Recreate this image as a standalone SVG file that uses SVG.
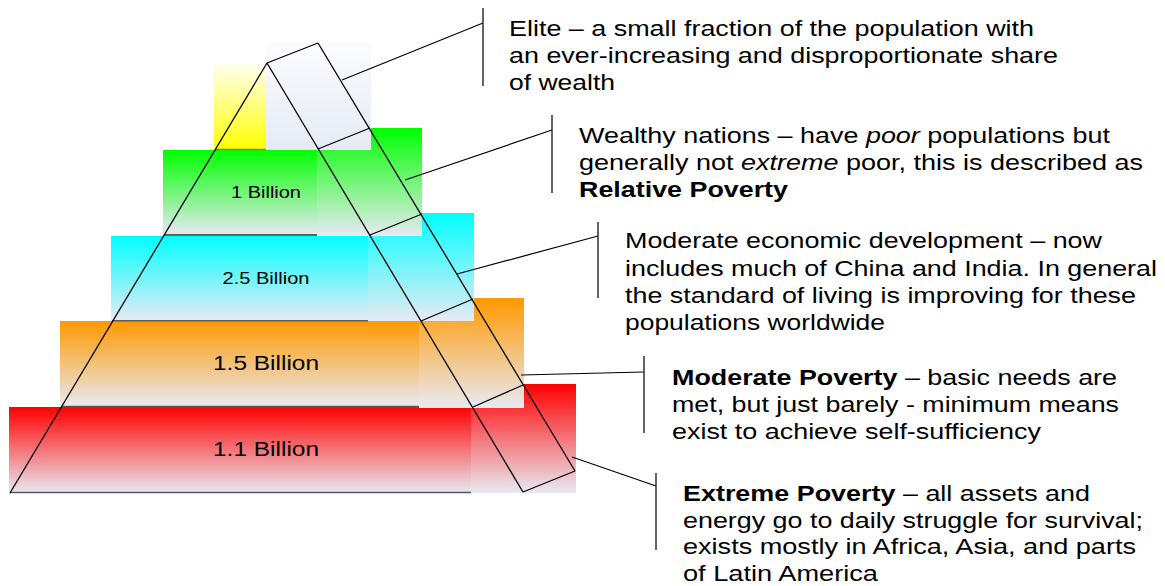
<svg xmlns="http://www.w3.org/2000/svg" width="1165" height="586" viewBox="0 0 1165 586">
<style>
.edge{fill:none;stroke:#000;stroke-width:1.3}
.conn{fill:none;stroke:#000;stroke-width:1.2}
.bar{fill:none;stroke:#222;stroke-width:1.4}
.base{stroke:#5a5a5a;stroke-width:1.6}
.lbl{font-family:"Liberation Sans",Arial,sans-serif;fill:#000}
.t{font-family:"Liberation Sans",Arial,sans-serif;font-size:21.5px;fill:#000}
.b{font-weight:bold}
.i{font-style:italic}
</style>
<defs>
<linearGradient id="gRed" x1="0" y1="0" x2="0" y2="1"><stop offset="0" stop-color="#ff0000"/><stop offset="1" stop-color="#e8eaf3"/></linearGradient>
<linearGradient id="gOrange" x1="0" y1="0" x2="0" y2="1"><stop offset="0" stop-color="#ff9900"/><stop offset="1" stop-color="#e8eaf3"/></linearGradient>
<linearGradient id="gCyan" x1="0" y1="0" x2="0" y2="1"><stop offset="0" stop-color="#00ffff"/><stop offset="1" stop-color="#e8eaf3"/></linearGradient>
<linearGradient id="gGreen" x1="0" y1="0" x2="0" y2="1"><stop offset="0" stop-color="#00ff00"/><stop offset="1" stop-color="#e8eaf3"/></linearGradient>
<linearGradient id="gYellow" x1="0" y1="0" x2="0" y2="1"><stop offset="0" stop-color="#fffff2"/><stop offset="1" stop-color="#ffff00"/></linearGradient>
<linearGradient id="gElite" x1="0" y1="0" x2="0" y2="1"><stop offset="0" stop-color="#fbfcff"/><stop offset="1" stop-color="#e6eaf4"/></linearGradient>
</defs>

<g id="extreme-poverty">
<rect x="9" y="407" width="462" height="86" fill="url(#gRed)"/>
<rect x="471" y="384" width="105" height="109" fill="url(#gRed)"/>
<line class="base" x1="10" y1="492.5" x2="471" y2="492.5"/>
<text class="lbl" x="266" y="456" font-size="20" text-anchor="middle" textLength="106" lengthAdjust="spacingAndGlyphs">1.1 Billion</text>
</g>

<g id="moderate-poverty">
<rect x="60" y="321" width="359" height="86" fill="url(#gOrange)"/>
<rect x="419" y="298" width="105" height="110" fill="url(#gOrange)"/>
<line class="base" x1="61" y1="406.5" x2="419" y2="406.5"/>
<text class="lbl" x="266" y="370" font-size="20" text-anchor="middle" textLength="106" lengthAdjust="spacingAndGlyphs">1.5 Billion</text>
</g>

<g id="moderate-development">
<rect x="111" y="236" width="257" height="85" fill="url(#gCyan)"/>
<rect x="368" y="213" width="106" height="108" fill="url(#gCyan)"/>
<line class="base" x1="112" y1="320.7" x2="368" y2="320.7"/>
<text class="lbl" x="266" y="283.5" font-size="16.8" text-anchor="middle" textLength="87" lengthAdjust="spacingAndGlyphs">2.5 Billion</text>
</g>

<g id="wealthy-nations">
<rect x="163" y="150" width="154" height="85" fill="url(#gGreen)"/>
<rect x="317" y="128" width="105" height="108" fill="url(#gGreen)"/>
<line x1="164" y1="235" x2="317" y2="235" stroke="#1f3a1f" stroke-width="1.6"/>
<text class="lbl" x="266" y="197.7" font-size="16.8" text-anchor="middle" textLength="70" lengthAdjust="spacingAndGlyphs">1 Billion</text>
</g>

<g id="elite">
<rect x="214" y="63" width="52" height="87" fill="url(#gYellow)"/>
<rect x="266" y="42" width="105" height="108" fill="url(#gElite)"/>
<line x1="215" y1="149.5" x2="266" y2="149.5" stroke="#8a8400" stroke-width="1.6"/>
</g>

<g id="pyramid-outline">
<line class="edge" x1="267" y1="63" x2="10" y2="493"/>
<line class="edge" x1="267" y1="63" x2="523" y2="492"/>
<line class="edge" x1="267" y1="63" x2="318" y2="43"/>
<line class="edge" x1="318" y1="43" x2="575" y2="471"/>
<line class="edge" x1="575" y1="471" x2="523" y2="492"/>
<line class="edge" x1="318" y1="149" x2="370" y2="128"/>
<line class="edge" x1="370" y1="235" x2="422" y2="214"/>
<line class="edge" x1="421" y1="321" x2="473" y2="299"/>
<line class="edge" x1="473" y1="407" x2="523" y2="385"/>
</g>

<g id="connectors">
<line class="conn" x1="342" y1="80" x2="483" y2="23"/>
<line class="bar" x1="483" y1="8" x2="483" y2="86"/>
<line class="conn" x1="405" y1="180" x2="552" y2="130"/>
<line class="bar" x1="552" y1="115" x2="552" y2="193"/>
<line class="conn" x1="457" y1="274" x2="598" y2="236"/>
<line class="bar" x1="598" y1="222" x2="598" y2="298"/>
<line class="conn" x1="521" y1="375" x2="644" y2="372"/>
<line class="bar" x1="644" y1="356" x2="644" y2="433"/>
<line class="conn" x1="572" y1="457" x2="656" y2="486"/>
<line class="bar" x1="656" y1="473" x2="656" y2="550"/>
</g>

<g id="label-elite">
<text class="t" x="509" y="36" textLength="525" lengthAdjust="spacingAndGlyphs">Elite – a small fraction of the population with</text>
<text class="t" x="509" y="63" textLength="549" lengthAdjust="spacingAndGlyphs">an ever-increasing and disproportionate share</text>
<text class="t" x="509" y="90" textLength="106" lengthAdjust="spacingAndGlyphs">of wealth</text>
</g>

<g id="label-wealthy">
<text class="t" x="579" y="143" textLength="531" lengthAdjust="spacingAndGlyphs">Wealthy nations – have <tspan class="i">poor</tspan> populations but</text>
<text class="t" x="579" y="170" textLength="564" lengthAdjust="spacingAndGlyphs">generally not <tspan class="i">extreme</tspan> poor, this is described as</text>
<text class="t b" x="579" y="197" textLength="209" lengthAdjust="spacingAndGlyphs">Relative Poverty</text>
</g>

<g id="label-moderate-development">
<text class="t" x="625" y="248" textLength="477" lengthAdjust="spacingAndGlyphs">Moderate economic development – now</text>
<text class="t" x="625" y="276" textLength="532" lengthAdjust="spacingAndGlyphs">includes much of China and India. In general</text>
<text class="t" x="625" y="303" textLength="511" lengthAdjust="spacingAndGlyphs">the standard of living is improving for these</text>
<text class="t" x="625" y="330" textLength="260" lengthAdjust="spacingAndGlyphs">populations worldwide</text>
</g>

<g id="label-moderate-poverty">
<text class="t" x="672" y="385" textLength="445" lengthAdjust="spacingAndGlyphs"><tspan class="b">Moderate Poverty</tspan> – basic needs are</text>
<text class="t" x="672" y="412" textLength="447" lengthAdjust="spacingAndGlyphs">met, but just barely - minimum means</text>
<text class="t" x="672" y="439" textLength="369" lengthAdjust="spacingAndGlyphs">exist to achieve self-sufficiency</text>
</g>

<g id="label-extreme-poverty">
<text class="t" x="683" y="501" textLength="407" lengthAdjust="spacingAndGlyphs"><tspan class="b">Extreme Poverty</tspan> – all assets and</text>
<text class="t" x="683" y="528" textLength="460" lengthAdjust="spacingAndGlyphs">energy go to daily struggle for survival;</text>
<text class="t" x="683" y="554" textLength="453" lengthAdjust="spacingAndGlyphs">exists mostly in Africa, Asia, and parts</text>
<text class="t" x="683" y="581" textLength="195" lengthAdjust="spacingAndGlyphs">of Latin America</text>
</g>
</svg>
